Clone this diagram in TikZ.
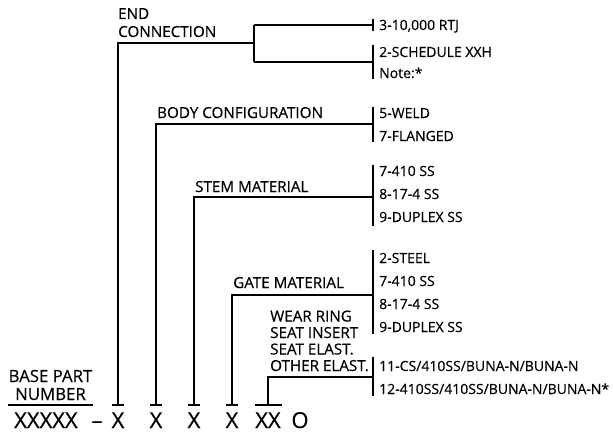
\documentclass[tikz,border=0pt]{standalone}
\usepackage{fontspec}
\setmainfont[FakeBold=0.4]{Open Sans}
\begin{document}
\begin{tikzpicture}[x=1pt,y=-1pt,
  lbl/.style={anchor=base west,inner sep=0pt,font=\fontsize{15.2}{17}\selectfont},
  item/.style={anchor=base west,inner sep=0pt,font=\fontsize{14}{16}\selectfont},
  clbl/.style={anchor=base,inner sep=0pt,font=\fontsize{16.8}{18}\selectfont},
  big/.style={anchor=base,inner sep=0pt,font=\fontsize{22}{24}\selectfont},
  ln/.style={line width=1.7pt}]
\useasboundingbox (0,0) rectangle (613,436);
% bottom row
\node[big,anchor=base west] (base) at (14,428) {XXXXX};
\node[big] (dash) at (97,428) {–};
\node[big] (x1) at (118,428) {X};
\node[big] (x2) at (156,428) {X};
\node[big] (x3) at (194,428) {X};
\node[big] (x4) at (232,428) {X};
\node[big] (x5) at (268,428) {XX};
\node[big] (x6) at (300,428) {O};
% base part number
\node[clbl] (bp1) at (50.5,382) {BASE PART};
\node[clbl] (bp2) at (50.5,400) {NUMBER};
\coordinate (ul1) at (8,405);
\coordinate (ul2) at (93,405);
\draw[ln] (ul1) -- (ul2);
% labels
\node[lbl] (end1) at (118,19) {END};
\node[lbl] (end2) at (118,37) {CONNECTION};
\node[lbl] (body) at (157,118) {BODY CONFIGURATION};
\node[lbl] (stem) at (195,192) {STEM MATERIAL};
\node[lbl] (gate) at (233,288) {GATE MATERIAL};
\node[lbl] (w1) at (270,321.5) {WEAR RING};
\node[lbl] (w2) at (270,338) {SEAT INSERT};
\node[lbl] (w3) at (270,354.5) {SEAT ELAST.};
\node[lbl] (w4) at (270,371) {OTHER ELAST.};
% items
\node[item] (e1) at (379,30) {3-10,000 RTJ};
\node[item] (e2) at (379,57) {2-SCHEDULE XXH};
\node[item] (e3) at (379,78) {Note:*};
\node[item] (b1) at (379,118) {5-WELD};
\node[item] (b2) at (379,141) {7-FLANGED};
\node[item] (s1) at (379,176) {7-410 SS};
\node[item] (s2) at (379,199) {8-17-4 SS};
\node[item] (s3) at (379,222) {9-DUPLEX SS};
\node[item] (g1) at (379,263) {2-STEEL};
\node[item] (g2) at (379,286) {7-410 SS};
\node[item] (g3) at (379,309) {8-17-4 SS};
\node[item] (g4) at (379,332) {9-DUPLEX SS};
\node[item] (r1) at (379,371) {11-CS/410SS/BUNA-N/BUNA-N};
\node[item] (r2) at (379,394) {12-410SS/410SS/BUNA-N/BUNA-N*};
% end connection
\draw[ln] (112,405) -- (124,405);
\draw[ln] (118,405) -- (118,43) -- (254,43);
\draw[ln] (254,25) -- (254,62);
\draw[ln] (254,25) -- (373,25);
\draw[ln] (373,19) -- (373,31);
\draw[ln] (254,62) -- (373,62);
\draw[ln] (373,45) -- (373,79);
% body
\draw[ln] (150,405) -- (162,405);
\draw[ln] (156,405) -- (156,124) -- (373,124);
\draw[ln] (373,107) -- (373,142);
% stem
\draw[ln] (188,405) -- (200,405);
\draw[ln] (194,405) -- (194,197) -- (373,197);
\draw[ln] (373,165) -- (373,226);
% gate
\draw[ln] (226,405) -- (238,405);
\draw[ln] (232,405) -- (232,295) -- (373,295);
\draw[ln] (373,250) -- (373,334);
% wear ring
\draw[ln] (255,405) -- (282,405);
\draw[ln] (268,405) -- (268,377) -- (373,377);
\draw[ln] (373,357) -- (373,396);
\end{tikzpicture}
\end{document}
